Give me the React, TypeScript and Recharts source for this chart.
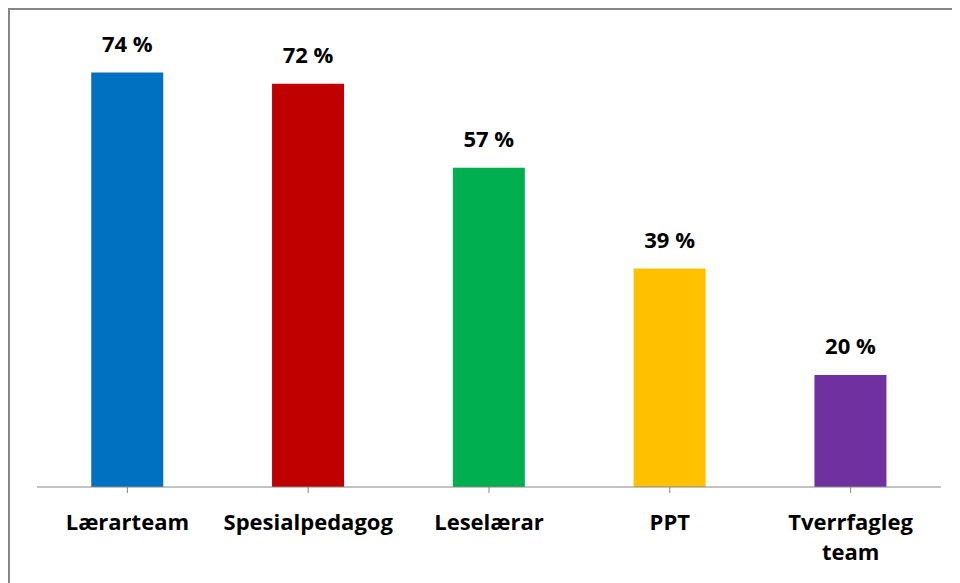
import { BarChart, Bar, XAxis, YAxis, Cell, LabelList } from "recharts";

const categories = ["Lærarteam", "Spesialpedagog", "Leselærar", "PPT", "Tverrfagleg team"];
const shares = [74, 72, 57, 39, 20];
const barColors = ["#0070C0", "#C00000", "#00B050", "#FFC000", "#7030A0"];

const data = categories.map((name, i) => ({ name, value: shares[i] }));

const FONT = "'Open Sans', Lato, sans-serif";

/** Category tick: one word per line when the label has several words. */
function CategoryTick(props: any): React.JSX.Element {
  const { x, y, payload } = props;
  const lines: string[] = String(payload.value).split(" ");
  return (
    <g transform={`translate(${x},${y})`}>
      {lines.map((line, i) => (
        <text
          key={i}
          x={0}
          y={35 + i * 30}
          textAnchor="middle"
          fontFamily={FONT}
          fontWeight="bold"
          fontSize={22}
          fill="#000"
        >
          {line}
        </text>
      ))}
    </g>
  );
}

export default function App(): React.JSX.Element {
  return (
    <div
      style={{
        width: 950,
        height: 573,
        borderTop: "2px solid #868686",
        borderLeft: "2px solid #868686",
        background: "#fff",
      }}
    >
      <BarChart
        width={950}
        height={573}
        data={data}
        margin={{ top: 29, right: 19, bottom: 0, left: 27 }}
        barCategoryGap="30%"
      >
        <XAxis
          dataKey="name"
          height={96}
          tick={<CategoryTick />}
          tickSize={6}
          axisLine={{ stroke: "#868686" }}
          tickLine={{ stroke: "#868686" }}
          interval={0}
        />
        <YAxis hide domain={[0, 80]} />
        <Bar dataKey="value" isAnimationActive={false}>
          {data.map((_, i) => (
            <Cell key={i} fill={barColors[i]} />
          ))}
          <LabelList
            dataKey="value"
            position="top"
            offset={21}
            formatter={(v: any) => `${v} %`}
            style={{ fontFamily: FONT, fontWeight: "bold", fontSize: 22, fill: "#000" }}
          />
        </Bar>
      </BarChart>
    </div>
  );
}
